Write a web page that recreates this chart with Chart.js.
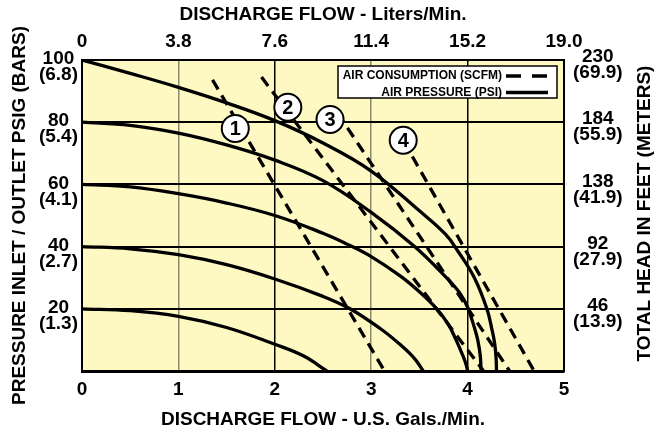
<!DOCTYPE html>
<html>
<head>
<meta charset="utf-8">
<script src="https://cdn.jsdelivr.net/npm/chart.js@4.4.1/dist/chart.umd.min.js"></script>
<style>
  html, body { margin: 0; padding: 0; background: #fff; }
</style>
</head>
<body>
<canvas id="pump-chart" width="660" height="432"></canvas>
<script>
// axis tick labels (index = tick value / step)
const galLabels = ['0', '1', '2', '3', '4', '5'];
const literLabels = ['0', '3.8', '7.6', '11.4', '15.2', '19.0'];
const psiLabels = ['', '20', '40', '60', '80', '100'];
const barLabels = ['', '(1.3)', '(2.7)', '(4.1)', '(5.4)', '(6.8)'];
const feetLabels = ['', '46', '92', '138', '184', '230'];
const meterLabels = ['', '(13.9)', '(27.9)', '(41.9)', '(55.9)', '(69.9)'];

// air pressure curves: [flow gpm, head psi]
const psi100 = [[0, 100], [0.5, 95.7], [1, 91.2], [1.5, 86.2], [2, 80.5], [2.5, 73.3], [3, 64.3], [3.5, 51.5], [3.77, 44], [3.9, 38.5], [4.07, 30], [4.2, 20], [4.255, 13], [4.28, 9], [4.295, 4.5], [4.3, 0]];
const psi80 = [[0, 80], [0.5, 79], [1, 76.5], [1.5, 72.7], [2, 67.8], [2.5, 61.2], [3, 51], [3.45, 40], [3.78, 30], [3.92, 25], [4, 20.5], [4.07, 14], [4.105, 10], [4.131, 5], [4.14, 0]];
const psi60 = [[0, 60], [0.5, 59.2], [1, 57], [1.5, 54], [2, 50], [2.5, 44.3], [2.75, 40.8], [3, 36.8], [3.3, 30.6], [3.5, 25.5], [3.68, 20], [3.8, 15], [3.88, 10], [3.95, 5], [3.985, 2], [4, 0]];
const psi40 = [[0, 40], [0.5, 39.3], [1, 37.4], [1.5, 34.2], [2, 29.6], [2.5, 24], [2.78, 20], [3.1, 13.5], [3.3, 8.5], [3.45, 4], [3.54, 0]];
const psi20 = [[0, 20], [0.5, 19.4], [1, 17.6], [1.5, 14], [2, 8.6], [2.3, 4.8], [2.54, 0]];

// air consumption lines (scfm): [flow gpm, head psi]
const scfm1 = [[1.354, 93.6], [3.138, 0]];
const scfm2 = [[1.862, 94.5], [4.165, 0]];
const scfm3 = [[2.65, 83], [4.435, 0]];
const scfm4 = [[3.335, 74], [4.69, 0]];

// circled scfm markers
const markerLabels = ['1', '2', '3', '4'];
const markerPoints = [[1.59, 78], [2.135, 84.8], [2.573, 80.9], [3.332, 74.2]];

const legendItems = [
  { text: 'AIR CONSUMPTION (SCFM)', dash: [15, 11] },
  { text: 'AIR PRESSURE (PSI)', dash: [] }
];

const FONT = "'Liberation Sans', Arial, Helvetica, sans-serif";
Chart.defaults.font.family = FONT;
Chart.defaults.color = '#000';

const toXY = pts => pts.map(p => ({ x: p[0], y: p[1] }));

const solidLine = pts => ({
  data: toXY(pts),
  borderColor: '#000',
  borderWidth: 3.3,
  pointRadius: 0,
  fill: false,
  tension: 0.4,
  order: 1
});

const dashedLine = pts => ({
  data: toXY(pts),
  borderColor: '#000',
  borderWidth: 3.3,
  borderDash: [11, 7],
  borderCapStyle: 'butt',
  pointRadius: 0,
  fill: false,
  order: 1
});

const plotBackground = {
  id: 'plotBackground',
  beforeDraw(chart) {
    const { ctx, chartArea: a } = chart;
    ctx.save();
    ctx.fillStyle = '#fff';
    ctx.fillRect(0, 0, chart.width, chart.height);
    ctx.fillStyle = '#fef8c3';
    ctx.fillRect(a.left, a.top, a.width, a.height);
    ctx.restore();
  }
};

const markerText = {
  id: 'markerText',
  afterDatasetsDraw(chart) {
    const { ctx } = chart;
    const meta = chart.getDatasetMeta(0);
    ctx.save();
    ctx.font = `bold 20px ${FONT}`;
    ctx.fillStyle = '#000';
    ctx.textAlign = 'center';
    ctx.textBaseline = 'middle';
    meta.data.forEach((pt, i) => {
      ctx.fillText(markerLabels[i], pt.x, pt.y + 1);
    });
    ctx.restore();
  }
};

const boxLegend = {
  id: 'boxLegend',
  afterDatasetsDraw(chart) {
    const { ctx, chartArea: a } = chart;
    const bx = a.right - 226;
    const by = a.top + 6;
    ctx.save();
    ctx.fillStyle = '#fff';
    ctx.fillRect(bx, by, 219, 32);
    ctx.strokeStyle = '#000';
    ctx.lineWidth = 1.5;
    ctx.strokeRect(bx, by, 219, 32);
    ctx.font = `bold 12px ${FONT}`;
    ctx.fillStyle = '#000';
    ctx.textAlign = 'right';
    ctx.textBaseline = 'middle';
    legendItems.forEach((item, i) => {
      const y = by + 10 + i * 16.5;
      ctx.fillText(item.text, bx + 164, y);
      ctx.beginPath();
      ctx.setLineDash(item.dash);
      ctx.lineWidth = 3.3;
      ctx.moveTo(bx + 168, y);
      ctx.lineTo(bx + 210, y);
      ctx.stroke();
    });
    ctx.restore();
  }
};

const rightTitle = {
  id: 'rightTitle',
  afterDraw(chart) {
    const { ctx, chartArea: a } = chart;
    ctx.save();
    ctx.translate(645, (a.top + a.bottom) / 2 - 2);
    ctx.rotate(-Math.PI / 2);
    ctx.font = `bold 19px ${FONT}`;
    ctx.fillStyle = '#000';
    ctx.textAlign = 'center';
    ctx.textBaseline = 'middle';
    ctx.fillText('TOTAL HEAD IN FEET (METERS)', 0, 0);
    ctx.restore();
  }
};

const tickFont = { size: 19, weight: 'bold' };
const sideTickFont = { size: 19, weight: 'bold', lineHeight: '16px' };
const titleFont = { size: 19, weight: 'bold', lineHeight: 1.2 };

const xGridColor = c => {
  const v = c.tick && c.tick.value;
  if (v === 1 || v === 3) return '#8a8a6e';
  if (v === 2 || v === 4) return '#000';
  return 'rgba(0,0,0,0)';
};

const yGridColor = c => {
  const v = c.tick && c.tick.value;
  return (v > 0 && v < 100) ? '#000' : 'rgba(0,0,0,0)';
};

new Chart(document.getElementById('pump-chart'), {
  type: 'line',
  data: {
    datasets: [
      {
        data: toXY(markerPoints),
        showLine: false,
        pointRadius: 13.5,
        pointHoverRadius: 13.5,
        pointBackgroundColor: '#fff',
        pointBorderColor: '#000',
        pointBorderWidth: 2,
        order: 0
      },
      solidLine(psi100),
      solidLine(psi80),
      solidLine(psi60),
      solidLine(psi40),
      solidLine(psi20),
      dashedLine(scfm1),
      dashedLine(scfm2),
      dashedLine(scfm3),
      dashedLine(scfm4)
    ]
  },
  options: {
    responsive: false,
    animation: false,
    events: [],
    layout: { padding: 0 },
    plugins: {
      legend: { display: false },
      tooltip: { enabled: false }
    },
    scales: {
      x: {
        type: 'linear',
        position: 'bottom',
        min: 0,
        max: 5,
        afterFit: s => { s.height = 61; },
        ticks: {
          stepSize: 1,
          padding: 7,
          font: tickFont,
          callback: v => galLabels[Math.round(v)]
        },
        grid: { color: xGridColor, lineWidth: 1.5, drawTicks: false },
        border: { display: true, color: '#000', width: 3 },
        title: {
          display: true,
          text: 'DISCHARGE FLOW - U.S. Gals./Min.',
          font: titleFont,
          padding: { top: 0, bottom: 1 }
        }
      },
      x2: {
        type: 'linear',
        position: 'top',
        min: 0,
        max: 5,
        afterFit: s => { s.height = 60; },
        ticks: {
          stepSize: 1,
          padding: 7,
          font: tickFont,
          callback: v => literLabels[Math.round(v)]
        },
        grid: { display: false, drawTicks: false },
        border: { display: true, color: '#000', width: 2 },
        title: {
          display: true,
          text: 'DISCHARGE FLOW - Liters/Min.',
          font: titleFont,
          padding: { top: 3, bottom: 0 }
        }
      },
      y: {
        type: 'linear',
        position: 'left',
        min: 0,
        max: 100,
        afterFit: s => { s.width = 82; },
        ticks: {
          stepSize: 20,
          padding: 4,
          labelOffset: -1,
          autoSkip: false,
          crossAlign: 'center',
          font: sideTickFont,
          callback: v => {
            const i = Math.round(v / 20);
            return psiLabels[i] ? ['', psiLabels[i], barLabels[i]] : '';
          }
        },
        grid: { color: yGridColor, lineWidth: 2, drawTicks: false },
        border: { display: true, color: '#000', width: 2 },
        title: {
          display: true,
          text: 'PRESSURE INLET / OUTLET PSIG (BARS)',
          font: titleFont,
          padding: { top: 8, bottom: 0 }
        }
      },
      y2: {
        type: 'linear',
        position: 'right',
        min: 0,
        max: 230,
        afterFit: s => { s.width = 96; },
        ticks: {
          stepSize: 46,
          padding: 9,
          labelOffset: -3,
          autoSkip: false,
          crossAlign: 'center',
          font: sideTickFont,
          callback: v => {
            const i = Math.round(v / 46);
            return feetLabels[i] ? ['', feetLabels[i], meterLabels[i]] : '';
          }
        },
        grid: { display: false, drawTicks: false },
        border: { display: true, color: '#000', width: 2 }
      }
    }
  },
  plugins: [plotBackground, markerText, boxLegend, rightTitle]
});
</script>
</body>
</html>
